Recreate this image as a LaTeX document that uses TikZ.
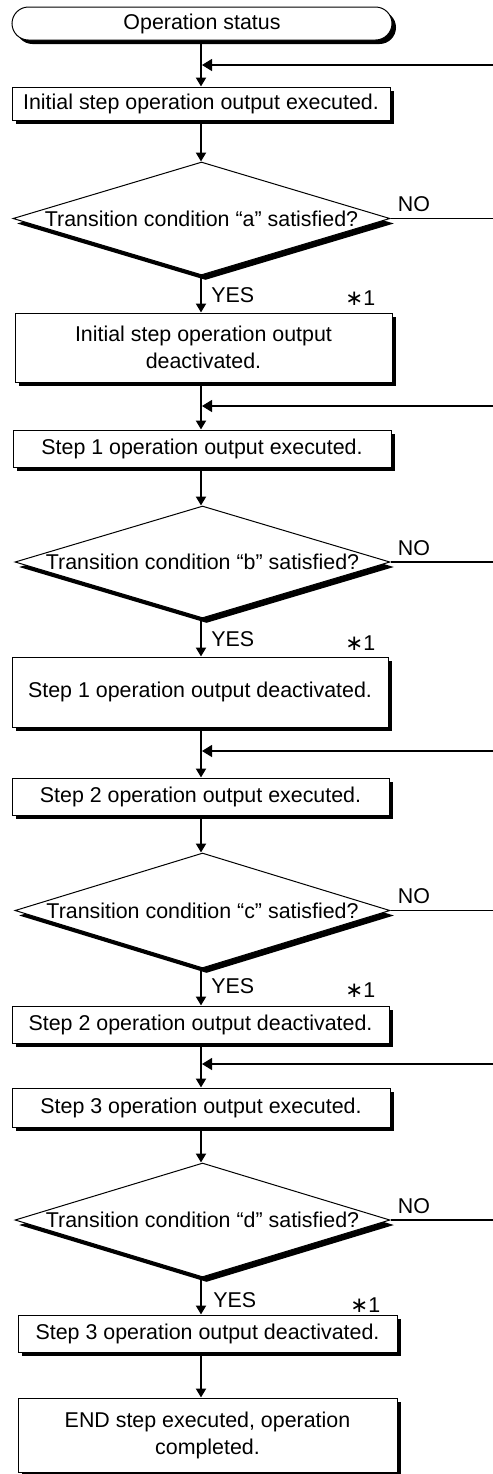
\documentclass[tikz,border=0pt]{standalone}
\usepackage{fontspec}
\setmainfont{Liberation Sans}
\newfontfamily\symfont{DejaVu Sans}
\usetikzlibrary{shapes.geometric,shadows,arrows.meta}
\tikzset{
  base/.style={font=\fontsize{10.7}{13.5}\selectfont, inner sep=0pt},
  procbox/.style={base, draw, fill=white, line width=0.5pt, align=center,
    drop shadow={shadow xshift=2pt, shadow yshift=-2pt, opacity=1, fill=black}},
  decbox/.style={diamond, draw, fill=white, line width=0.5pt, inner sep=0pt,
    drop shadow={shadow xshift=2pt, shadow yshift=-2.5pt, opacity=1, fill=black}},
  dectext/.style={base},
  flow/.style={line width=1pt, -{Triangle[length=4.5pt,width=5pt]}},
  back/.style={line width=0.6pt, -{Triangle[length=5pt,width=6pt]}},
  noline/.style={line width=0.6pt},
  lbl/.style={base, anchor=base west},
}
\newcommand{\starone}{{\symfont\char"2217}1}
\begin{document}
\begin{tikzpicture}[x=0.5pt,y=-0.5pt]
\useasboundingbox (0,0) rectangle (493,1474);
\coordinate (m) at (201,0);
\coordinate (r) at (493,0);
% nodes
\node[procbox, rounded corners=8.25pt, minimum width=190pt, minimum height=16.5pt] (T) at (202,23.5) {Operation status};
\node[procbox, minimum width=189pt, minimum height=16.5pt] (B0) at (201,103.5) {Initial step operation output executed.};
\node[decbox, minimum width=188.5pt, minimum height=56.5pt] (Da) at (201.5,218.5) {};
\node[dectext] (ta) at (Da) {Transition condition “a” satisfied?};
\node[procbox, minimum width=188.5pt, minimum height=34.5pt] (B1) at (203.5,347.5) {Initial step operation output\\deactivated.};
\node[procbox, minimum width=189pt, minimum height=18.5pt] (B2) at (202,448.5) {Step 1 operation output executed.};
\node[decbox, minimum width=187.5pt, minimum height=56pt] (Db) at (202.5,562) {};
\node[dectext] (tb) at (Db) {Transition condition “b” satisfied?};
\node[procbox, minimum width=188pt, minimum height=35pt] (B3) at (200,692) {Step 1 operation output deactivated.};
\node[procbox, minimum width=188.5pt, minimum height=18.5pt] (B4) at (200.5,796.5) {Step 2 operation output executed.};
\node[decbox, minimum width=187.5pt, minimum height=57.5pt] (Dc) at (202.5,910.5) {};
\node[dectext] (tc) at (Dc) {Transition condition “c” satisfied?};
\node[procbox, minimum width=188.5pt, minimum height=18.5pt] (B5) at (200.5,1024.5) {Step 2 operation output deactivated.};
\node[procbox, minimum width=189pt, minimum height=19.5pt] (B6) at (201,1107.5) {Step 3 operation output executed.};
\node[decbox, minimum width=187.5pt, minimum height=57pt] (Dd) at (202.5,1220) {};
\node[dectext] (td) at (Dd) {Transition condition “d” satisfied?};
\node[procbox, minimum width=189.5pt, minimum height=18.5pt] (B7) at (207.5,1333.5) {Step 3 operation output deactivated.};
\node[procbox, minimum width=189.5pt, minimum height=37pt] (B8) at (207.5,1435) {END step executed, operation\\completed.};
% main flow
\draw[flow] (T.south -| m) -- (B0.north -| m);
\draw[flow] (B0.south -| m) -- (Da.north -| m);
\draw[flow] (Da.south -| m) -- (B1.north -| m);
\draw[flow] (B1.south -| m) -- (B2.north -| m);
\draw[flow] (B2.south -| m) -- (Db.north -| m);
\draw[flow] (Db.south -| m) -- (B3.north -| m);
\draw[flow] (B3.south -| m) -- (B4.north -| m);
\draw[flow] (B4.south -| m) -- (Dc.north -| m);
\draw[flow] (Dc.south -| m) -- (B5.north -| m);
\draw[flow] (B5.south -| m) -- (B6.north -| m);
\draw[flow] (B6.south -| m) -- (Dd.north -| m);
\draw[flow] (Dd.south -| m) -- (B7.north -| m);
\draw[flow] (B7.south -| m) -- (B8.north -| m);
% feedback arrows
\coordinate (f0s) at (493,65);   \coordinate (f0e) at (202,65);
\coordinate (f1s) at (493,406);  \coordinate (f1e) at (202,406);
\coordinate (f2s) at (493,751);  \coordinate (f2e) at (202,751);
\coordinate (f3s) at (493,1064); \coordinate (f3e) at (202,1064);
\draw[back] (f0s) -- (f0e);
\draw[back] (f1s) -- (f1e);
\draw[back] (f2s) -- (f2e);
\draw[back] (f3s) -- (f3e);
% NO lines
\draw[noline] (Da.east) -- (Da.east -| r);
\draw[noline] (Db.east) -- (Db.east -| r);
\draw[noline] (Dc.east) -- (Dc.east -| r);
\draw[noline] (Dd.east) -- (Dd.east -| r);
\node[lbl] (noa) at ([xshift=3.5pt,yshift=3.5pt]Da.east) {NO};
\node[lbl] (nob) at ([xshift=3.5pt,yshift=3.5pt]Db.east) {NO};
\node[lbl] (noc) at ([xshift=3.5pt,yshift=3.5pt]Dc.east) {NO};
\node[lbl] (nod) at ([xshift=3.5pt,yshift=3.5pt]Dd.east) {NO};
% YES labels
\node[lbl] (ya) at (211,302) {YES};
\node[lbl] (yb) at (211,646) {YES};
\node[lbl] (yc) at (211,993) {YES};
\node[lbl] (yd) at (213,1307) {YES};
% *1 labels
\node[lbl] (sa) at (345,305) {\starone};
\node[lbl] (sb) at (345,650) {\starone};
\node[lbl] (sc) at (345,997) {\starone};
\node[lbl] (sd) at (350,1312) {\starone};
\end{tikzpicture}
\end{document}
